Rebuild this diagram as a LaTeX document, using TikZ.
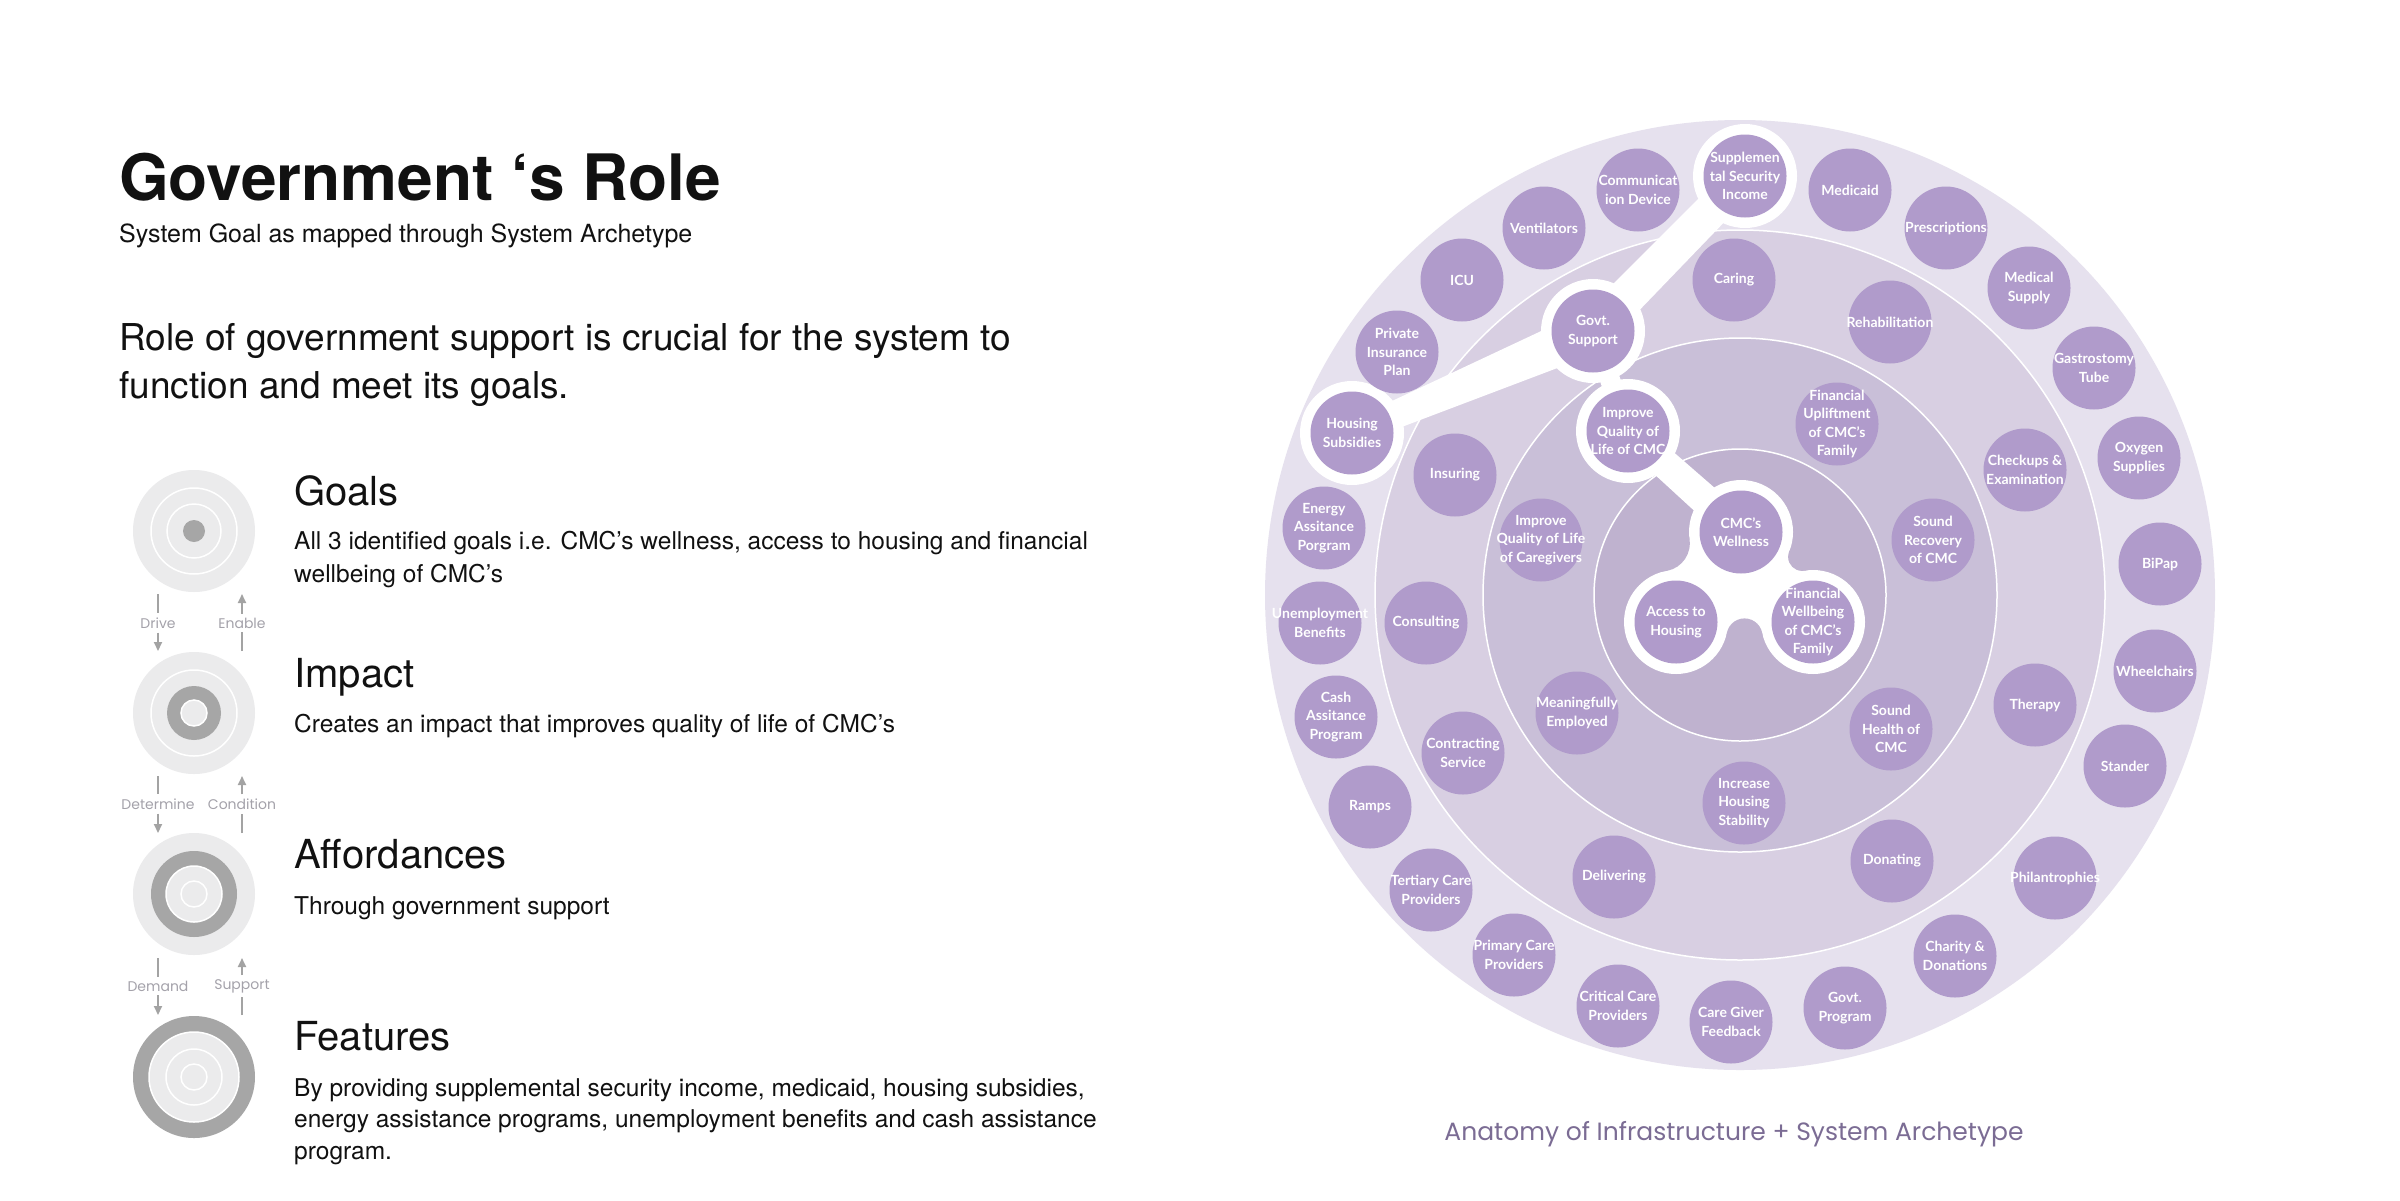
\documentclass[tikz,border=0pt]{standalone}
\usepackage{fontspec}
\setmainfont{TeX Gyre Heros}
\newfontfamily\nodefont{Lato}
\newfontfamily\capfont{Poppins}
\usetikzlibrary{calc,arrows.meta}

\definecolor{ringA}{HTML}{E6E1EE}
\definecolor{ringB}{HTML}{D8CFE2}
\definecolor{ringC}{HTML}{C9BFD8}
\definecolor{ringD}{HTML}{BFB2CF}
\definecolor{nodefill}{HTML}{B09BCB}
\definecolor{iconlight}{HTML}{EBEBEC}
\definecolor{icondark}{HTML}{A6A6A6}
\definecolor{arrowgray}{HTML}{A3A3A3}
\definecolor{arrowtext}{HTML}{A4A2AA}
\definecolor{captioncol}{HTML}{7B6C94}
\definecolor{textdark}{HTML}{111111}

\tikzset{
  item/.style={circle, fill=nodefill, minimum size=83pt, inner sep=0pt},
  halo/.style={circle, fill=white, minimum size=104pt, inner sep=0pt},
  lbl/.style={text=white, font=\nodefont\bfseries\fontsize{14}{18.5}\selectfont, align=center, inner sep=0pt},
  icondisc/.style={circle, fill=iconlight, minimum size=122pt, inner sep=0pt},
  whiteline/.style={draw=white, line width=1.5pt},
  arrlbl/.style={text=arrowtext, font=\capfont\fontsize{14}{16}\selectfont, inner sep=4pt},
  arrline/.style={draw=arrowgray, line width=2pt},
  arrtip/.style={-{Triangle[length=9pt,width=8pt]}},
  txt/.style={anchor=base west, inner sep=0pt, text=textdark},
}
\newcommand\itm[4]{\node[item, label={[lbl]center:{#4}}] (#1) at (#2,#3) {};}

\begin{document}
\begin{tikzpicture}[x=1pt,y=-1pt]
\useasboundingbox (0,0) rectangle (2400,1200);
\fill[white] (0,0) rectangle (2400,1200);

% ---------------- left column ----------------
\node[txt, font=\bfseries\fontsize{64}{70}\selectfont] (title) at (119,200) {Government ‘s Role};
\node[txt, font=\fontsize{25}{28}\selectfont] (subtitle) at (119,242) {System Goal as mapped through System Archetype};
\node[txt, font=\fontsize{37}{44}\selectfont] (lead1) at (119,350) {Role of government support is crucial for the system to};
\node[txt, font=\fontsize{37}{44}\selectfont] (lead2) at (119,398) {function and meet its goals.};

\node[txt, font=\fontsize{40}{44}\selectfont] (hgoals) at (294,505) {Goals};
\node[txt, font=\fontsize{24.5}{28}\selectfont] (dgoals1) at (294,549) {All 3 identified goals i.e. CMC’s wellness, access to housing and financial};
\node[txt, font=\fontsize{24.5}{28}\selectfont] (dgoals2) at (294,582) {wellbeing of CMC’s};

\node[txt, font=\fontsize{40}{44}\selectfont] (himpact) at (294,687) {Impact};
\node[txt, font=\fontsize{24.5}{28}\selectfont] (dimpact) at (294,732) {Creates an impact that improves quality of life of CMC’s};

\node[txt, font=\fontsize{40}{44}\selectfont] (haff) at (294,868) {Affordances};
\node[txt, font=\fontsize{24.5}{28}\selectfont] (daff) at (294,914) {Through government support};

\node[txt, font=\fontsize{40}{44}\selectfont] (hfeat) at (294,1050) {Features};
\node[txt, font=\fontsize{24.5}{28}\selectfont] (dfeat1) at (294,1096) {By providing supplemental security income, medicaid, housing subsidies,};
\node[txt, font=\fontsize{24.5}{28}\selectfont] (dfeat2) at (294,1127) {energy assistance programs, unemployment benefits and cash assistance};
\node[txt, font=\fontsize{24.5}{28}\selectfont] (dfeat3) at (294,1159) {program.};

% icons
\node[icondisc] (icn1) at (194,531) {};
\draw[whiteline] (icn1) circle[radius=43pt] (icn1) circle[radius=27pt];
\fill[icondark] (icn1) circle[radius=11pt];

\node[icondisc] (icn2) at (194,713) {};
\draw[whiteline] (icn2) circle[radius=43pt];
\fill[icondark] (icn2) circle[radius=27pt];
\filldraw[fill=iconlight, whiteline] (icn2) circle[radius=13pt];

\node[icondisc] (icn3) at (194,894) {};
\fill[icondark] (icn3) circle[radius=43pt];
\filldraw[fill=iconlight, whiteline] (icn3) circle[radius=28pt];
\draw[whiteline] (icn3) circle[radius=13pt];

\node[icondisc, fill=icondark] (icn4) at (194,1077) {};
\filldraw[fill=iconlight, whiteline] (icn4) circle[radius=45pt];
\draw[whiteline] (icn4) circle[radius=28pt] (icn4) circle[radius=13pt];

% arrows
\coordinate (a1t) at (158,594); \coordinate (a1b) at (158,651);
\coordinate (b1t) at (242,594); \coordinate (b1b) at (242,651);
\coordinate (a2t) at (158,776); \coordinate (a2b) at (158,833);
\coordinate (b2t) at (242,776); \coordinate (b2b) at (242,833);
\coordinate (a3t) at (158,958); \coordinate (a3b) at (158,1015);
\coordinate (b3t) at (242,958); \coordinate (b3b) at (242,1015);

\node[arrlbl] (drive) at (158,623) {Drive};
\node[arrlbl] (enable) at (242,623) {Enable};
\node[arrlbl] (determine) at (158,804) {Determine};
\node[arrlbl] (condition) at (242,804) {Condition};
\node[arrlbl] (demand) at (158,986) {Demand};
\node[arrlbl] (support) at (242,986) {Support};

\draw[arrline] (a1t) -- (drive.north);
\draw[arrline, arrtip] (drive.south) -- (a1b);
\draw[arrline] (b1b) -- (enable.south);
\draw[arrline, arrtip] (enable.north) -- (b1t);
\draw[arrline] (a2t) -- (determine.north);
\draw[arrline, arrtip] (determine.south) -- (a2b);
\draw[arrline] (b2b) -- (condition.south);
\draw[arrline, arrtip] (condition.north) -- (b2t);
\draw[arrline] (a3t) -- (demand.north);
\draw[arrline, arrtip] (demand.south) -- (a3b);
\draw[arrline] (b3b) -- (support.south);
\draw[arrline, arrtip] (support.north) -- (b3t);

% ---------------- right diagram ----------------
\coordinate (C) at (1740,595);
\fill[ringA] (C) circle[radius=475pt];
\filldraw[fill=ringB, whiteline] (C) circle[radius=365pt];
\filldraw[fill=ringC, whiteline] (C) circle[radius=257pt];
\filldraw[fill=ringD, whiteline] (C) circle[radius=146pt];

% highlighted path
\node[halo] (hS) at (1745,176) {};
\node[halo] (hG) at (1593,331) {};
\node[halo] (hH) at (1352,433) {};
\node[halo] (hI) at (1628,431) {};
\node[halo] (hW) at (1741,532) {};
\node[halo] (hA) at (1676,622) {};
\node[halo] (hF) at (1813,622) {};

\fill[white] ($(hG.center)!19pt!90:(hS.center)$) -- ($(hS.center)!17pt!-90:(hG.center)$)
  -- ($(hS.center)!17pt!90:(hG.center)$) -- ($(hG.center)!19pt!-90:(hS.center)$) -- cycle;
\fill[white] ($(hG.center)!22pt!90:(hH.center)$) -- ($(hH.center)!12pt!-90:(hG.center)$)
  -- ($(hH.center)!12pt!90:(hG.center)$) -- ($(hG.center)!22pt!-90:(hH.center)$) -- cycle;
\fill[white] ($(hG.center)!10pt!90:(hI.center)$) -- ($(hI.center)!10pt!-90:(hG.center)$)
  -- ($(hI.center)!10pt!90:(hG.center)$) -- ($(hG.center)!10pt!-90:(hI.center)$) -- cycle;
\fill[white] ($(hI.center)!14pt!90:(hW.center)$) -- ($(hW.center)!16pt!-90:(hI.center)$)
  -- ($(hW.center)!16pt!90:(hI.center)$) -- ($(hI.center)!14pt!-90:(hW.center)$) -- cycle;

\coordinate (fL) at (1661.8,543.3);
\coordinate (fR) at (1802.1,556.9);
\coordinate (fB) at (1744.5,636.4);
\fill[white] (hW.center) -- ($(hW.center)!52pt!(fL)$) -- ($(hA.center)!52pt!(fL)$) -- (hA.center)
  -- ($(hA.center)!52pt!(fB)$) -- ($(hF.center)!52pt!(fB)$) -- (hF.center)
  -- ($(hF.center)!52pt!(fR)$) -- ($(hW.center)!52pt!(fR)$) -- cycle;
\fill[ringD] (fL) circle[radius=28pt] (fR) circle[radius=14pt] (fB) circle[radius=18pt];

% outer ring
\itm{ssi}{1745}{176}{Supplemen\\tal Security\\Income}
\itm{medicaid}{1850}{190}{Medicaid}
\itm{prescr}{1946}{228}{Prescriptions}
\itm{medsup}{2029}{288}{Medical\\Supply}
\itm{gastro}{2094}{368}{Gastrostomy\\Tube}
\itm{oxygen}{2139}{458}{Oxygen\\Supplies}
\itm{bipap}{2160}{564}{BiPap}
\itm{wheel}{2155}{671}{Wheelchairs}
\itm{stander}{2125}{766}{Stander}
\itm{phil}{2055}{878}{Philantrophies}
\itm{charity}{1955}{956}{Charity \&\\Donations}
\itm{govprog}{1845}{1008}{Govt.\\Program}
\itm{cgfb}{1731}{1022}{Care Giver\\Feedback}
\itm{critical}{1618}{1006}{Critical Care\\Providers}
\itm{primary}{1514}{955}{Primary Care\\Providers}
\itm{tertiary}{1431}{890}{Tertiary Care\\Providers}
\itm{ramps}{1370}{807}{Ramps}
\itm{cash}{1336}{717}{Cash\\Assitance\\Program}
\itm{unemp}{1320}{623}{Unemployment\\Benefits}
\itm{energy}{1324}{528}{Energy\\Assitance\\Porgram}
\itm{housing}{1352}{433}{Housing\\Subsidies}
\itm{private}{1397}{352}{Private\\Insurance\\Plan}
\itm{icu}{1462}{280}{ICU}
\itm{vent}{1544}{228}{Ventilators}
\itm{comm}{1638}{190}{Communicat\\ion Device}

% second ring
\itm{caring}{1734}{280}{Caring}
\itm{govsup}{1593}{331}{Govt.\\Support}
\itm{rehab}{1890}{322}{Rehabilitation}
\itm{insuring}{1455}{475}{Insuring}
\itm{checkups}{2025}{470}{Checkups \&\\Examination}
\itm{consulting}{1426}{623}{Consulting}
\itm{therapy}{2035}{705}{Therapy}
\itm{contracting}{1463}{753}{Contracting\\Service}
\itm{delivering}{1614}{877}{Delivering}
\itm{donating}{1892}{861}{Donating}

% third ring
\itm{iqlcmc}{1628}{431}{Improve\\Quality of\\Life of CMC}
\itm{finup}{1837}{424}{Financial\\Upliftment\\of CMC’s\\Family}
\itm{iqlcg}{1541}{540}{Improve\\Quality of Life\\of Caregivers}
\itm{soundrec}{1933}{540}{Sound\\Recovery\\of CMC}
\itm{employed}{1577}{713}{Meaningfully\\Employed}
\itm{soundhealth}{1891}{729}{Sound\\Health of\\CMC}
\itm{housingstab}{1744}{803}{Increase\\Housing\\Stability}

% core
\itm{wellness}{1741}{532}{CMC’s\\Wellness}
\itm{access}{1676}{622}{Access to\\Housing}
\itm{finwell}{1813}{622}{Financial\\Wellbeing\\of CMC’s\\Family}

\node[anchor=base, inner sep=0pt, text=captioncol, font=\capfont\fontsize{25}{30}\selectfont] (caption) at (1734,1140) {Anatomy of Infrastructure + System Archetype};
\end{tikzpicture}
\end{document}
